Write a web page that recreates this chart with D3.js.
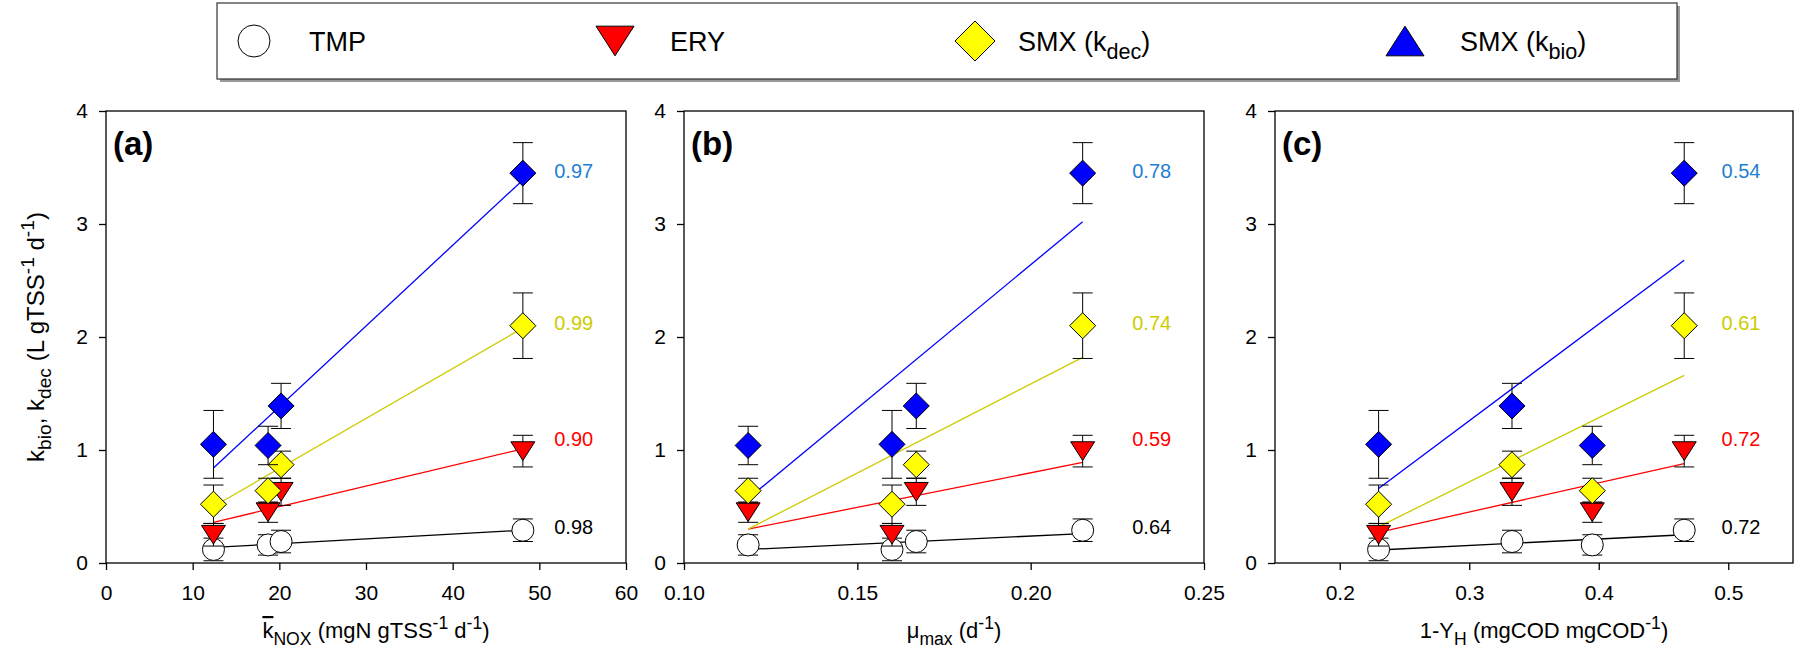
<!DOCTYPE html>
<html>
<head>
<meta charset="utf-8">
<script src="https://d3js.org/d3.v7.min.js"></script>
<style>
  body { margin: 0; background: #fff; }
  svg { font-family: "Liberation Sans", Arial, sans-serif; }
</style>
</head>
<body>
<svg id="chart" width="1795" height="654"></svg>
<script>
// ---- data ----
// conditions A..D, same measured rates plotted against three parameters
var seriesNames = ["TMP", "ERY", "SMX (kdec)", "SMX (kbio)"];
var xKnox = [12.4, 18.7, 20.2, 48.1];
var xMuMax = [0.160, 0.1185, 0.167, 0.215];
var xYield = [0.230, 0.395, 0.333, 0.466];

var tmpVal = [0.12, 0.16, 0.19, 0.29];
var tmpErr = [0.10, 0.09, 0.10, 0.10];
var eryVal = [0.25, 0.45, 0.63, 0.99];
var eryErr = [0.10, 0.09, 0.12, 0.14];
var kdecVal = [0.52, 0.64, 0.87, 2.10];
var kdecErr = [0.17, 0.11, 0.12, 0.29];
var kbioVal = [1.05, 1.04, 1.39, 3.45];
var kbioErr = [0.30, 0.17, 0.20, 0.27];

// fitted line ends (at min x, max x), series order TMP, ERY, kdec, kbio
var fitKnox = [[0.138, 0.29], [0.36, 1.01], [0.50, 2.08], [0.84, 3.39]];
var fitMuMax = [[0.12, 0.26], [0.30, 0.89], [0.30, 1.82], [0.57, 3.02]];
var fitYield = [[0.115, 0.25], [0.27, 0.88], [0.32, 1.66], [0.66, 2.68]];

var r2Knox = ["0.98", "0.90", "0.99", "0.97"];
var r2MuMax = ["0.64", "0.59", "0.74", "0.78"];
var r2Yield = ["0.72", "0.72", "0.61", "0.54"];

var yTicks = [0, 1, 2, 3, 4];

// ---- styling ----
var markerFill = ["#ffffff", "#ff0000", "#ffff00", "#0000ff"];
var lineColor = ["#000000", "#ff0000", "#cccc00", "#0000ff"];
var r2Color = ["#000000", "#ff0000", "#cccc00", "#1e7fd0"];
var plotShapes = ["circle", "down", "diamond", "diamond"];
var legendShapes = ["circle", "down", "diamond", "up"];
var plotSize = [11, 12, 13, 13];
var r2LabelY = [0.32, 1.10, 2.12, 3.47];

var values = [tmpVal, eryVal, kdecVal, kbioVal];
var errors = [tmpErr, eryErr, kdecErr, kbioErr];

var svg = d3.select("#chart");
var plotTop = 111, plotBottom = 563;
var y = d3.scaleLinear().domain([0, 4]).range([plotBottom, plotTop]);

function shapePath(type, s) {
  // s = half width
  if (type == "circle") {
    return "M" + (-s) + ",0A" + s + "," + s + " 0 1,0 " + s + ",0A" + s + "," + s + " 0 1,0 " + (-s) + ",0Z";
  }
  if (type == "diamond") {
    return "M0," + (-s) + "L" + s + ",0L0," + s + "L" + (-s) + ",0Z";
  }
  var h = s * 0.78;
  if (type == "down") return "M" + (-s) + "," + (-h) + "L" + s + "," + (-h) + "L0," + h + "Z";
  return "M" + (-s) + "," + h + "L" + s + "," + h + "L0," + (-h) + "Z";
}

// text with sub/superscripts: parts = [[text, "sub"|"sup"|"over"|null], ...]
function richText(sel, parts, size) {
  var shift = 0;
  parts.forEach(function(p) {
    var t = sel.append("tspan").text(p[0]);
    var want = 0;
    if (p[1] == "sub") want = size * 0.3;
    if (p[1] == "sup") want = -size * 0.4;
    if (p[1] == "sub" || p[1] == "sup") t.attr("font-size", size * 0.8);
    if (p[1] == "over") t.style("text-decoration", "overline");
    t.attr("dy", want - shift);
    shift = want;
  });
}

var panels = [
  { x: xKnox, fit: fitKnox, r2: r2Knox, domain: [0, 60], ticks: [0, 10, 20, 30, 40, 50, 60], fmt: d3.format("d"),
    left: 106, right: 626, tag: "(a)",
    title: [["k", "over"], ["NOX", "sub"], [" (mgN gTSS", null], ["-1", "sup"], [" d", null], ["-1", "sup"], [")", null]] },
  { x: xMuMax, fit: fitMuMax, r2: r2MuMax, domain: [0.10, 0.25], ticks: [0.10, 0.15, 0.20, 0.25], fmt: d3.format(".2f"),
    left: 684, right: 1204, tag: "(b)",
    title: [["\u03bc", null], ["max", "sub"], [" (d", null], ["-1", "sup"], [")", null]] },
  { x: xYield, fit: fitYield, r2: r2Yield, domain: [0.15, 0.55], ticks: [0.2, 0.3, 0.4, 0.5], fmt: d3.format(".1f"),
    left: 1275, right: 1793, tag: "(c)",
    title: [["1-Y", null], ["H", "sub"], [" (mgCOD mgCOD", null], ["-1", "sup"], [")", null]] }
];

panels.forEach(function(p, pi) {
  var x = d3.scaleLinear().domain(p.domain).range([p.left, p.right]);
  var g = svg.append("g");

  // frame
  g.append("rect").attr("x", p.left).attr("y", plotTop)
    .attr("width", p.right - p.left).attr("height", plotBottom - plotTop)
    .attr("fill", "none").attr("stroke", "#000").attr("stroke-width", 1.3);

  var xAxis = g.append("g").attr("transform", "translate(0," + plotBottom + ")")
    .call(d3.axisBottom(x).tickValues(p.ticks).tickFormat(p.fmt).tickSize(7).tickPadding(15));
  var yAxis = g.append("g").attr("transform", "translate(" + p.left + ",0)")
    .call(d3.axisLeft(y).tickValues(yTicks).tickFormat(d3.format("d")).tickSize(7).tickPadding(11));
  [xAxis, yAxis].forEach(function(a) {
    a.select(".domain").remove();
    a.selectAll(".tick line").attr("stroke", "#000").attr("stroke-width", 1.3);
    a.selectAll(".tick text").attr("font-size", 21).attr("fill", "#000")
      .attr("font-family", "Liberation Sans, Arial, sans-serif");
  });

  // fitted lines
  var x0 = d3.min(p.x), x1 = d3.max(p.x);
  p.fit.forEach(function(f, si) {
    g.append("line")
      .attr("x1", x(x0)).attr("y1", y(f[0]))
      .attr("x2", x(x1)).attr("y2", y(f[1]))
      .attr("stroke", lineColor[si]).attr("stroke-width", 1.3);
  });

  // error bars + markers
  values.forEach(function(vals, si) {
    var pts = vals.map(function(v, i) { return { x: p.x[i], v: v, e: errors[si][i] }; });
    var eb = g.append("g").attr("stroke", "#000").attr("stroke-width", 1);
    pts.forEach(function(d) {
      var cx = x(d.x);
      eb.append("line").attr("x1", cx).attr("x2", cx).attr("y1", y(d.v - d.e)).attr("y2", y(d.v + d.e));
      [d.v - d.e, d.v + d.e].forEach(function(yy) {
        eb.append("line").attr("x1", cx - 10).attr("x2", cx + 10).attr("y1", y(yy)).attr("y2", y(yy));
      });
    });
    g.selectAll(".m" + si).data(pts).enter().append("path")
      .attr("transform", function(d) { return "translate(" + x(d.x) + "," + y(d.v) + ")"; })
      .attr("d", shapePath(plotShapes[si], plotSize[si]))
      .attr("fill", markerFill[si]).attr("stroke", "#000").attr("stroke-width", 1);
  });

  // r-squared labels
  p.r2.forEach(function(t, si) {
    g.append("text")
      .attr("x", p.left + (p.right - p.left) * 0.862)
      .attr("y", y(r2LabelY[si]))
      .attr("dy", "0.35em")
      .attr("font-size", 20)
      .attr("fill", r2Color[si])
      .text(t);
  });

  // panel tag
  g.append("text").attr("x", p.left + 7).attr("y", 155)
    .attr("font-size", 33).attr("font-weight", "bold").text(p.tag);

  // x title
  var xt = g.append("text").attr("x", (p.left + p.right) / 2 + 10).attr("y", 638)
    .attr("text-anchor", "middle").attr("font-size", 22);
  richText(xt, p.title, 22);
});

// y title
var yt = svg.append("text")
  .attr("transform", "translate(44," + ((plotTop + plotBottom) / 2) + ") rotate(-90)")
  .attr("text-anchor", "middle").attr("font-size", 24);
richText(yt, [["k", null], ["bio", "sub"], [", k", null], ["dec", "sub"], [" (L gTSS", null], ["-1", "sup"], [" d", null], ["-1", "sup"], [")", null]], 24);

// legend
var legend = svg.append("g");
legend.append("rect").attr("x", 220).attr("y", 6).attr("width", 1460).attr("height", 76)
  .attr("fill", "#999");
legend.append("rect").attr("x", 217).attr("y", 3).attr("width", 1460).attr("height", 76)
  .attr("fill", "#fff").attr("stroke", "#333").attr("stroke-width", 1.2);
var legendX = [254, 615, 975, 1405];
var legendTextX = [309, 670, 1018, 1460];
var legendSize = [16, 19, 20, 19];
var legendLabels = [
  [["TMP", null]],
  [["ERY", null]],
  [["SMX (k", null], ["dec", "sub"], [")", null]],
  [["SMX (k", null], ["bio", "sub"], [")", null]]
];
seriesNames.forEach(function(n, si) {
  legend.append("path")
    .attr("transform", "translate(" + legendX[si] + ",41)")
    .attr("d", shapePath(legendShapes[si], legendSize[si]))
    .attr("fill", markerFill[si]).attr("stroke", "#000").attr("stroke-width", 1);
  var t = legend.append("text").attr("x", legendTextX[si]).attr("y", 51).attr("font-size", 27);
  richText(t, legendLabels[si], 27);
});
</script>
</body>
</html>
